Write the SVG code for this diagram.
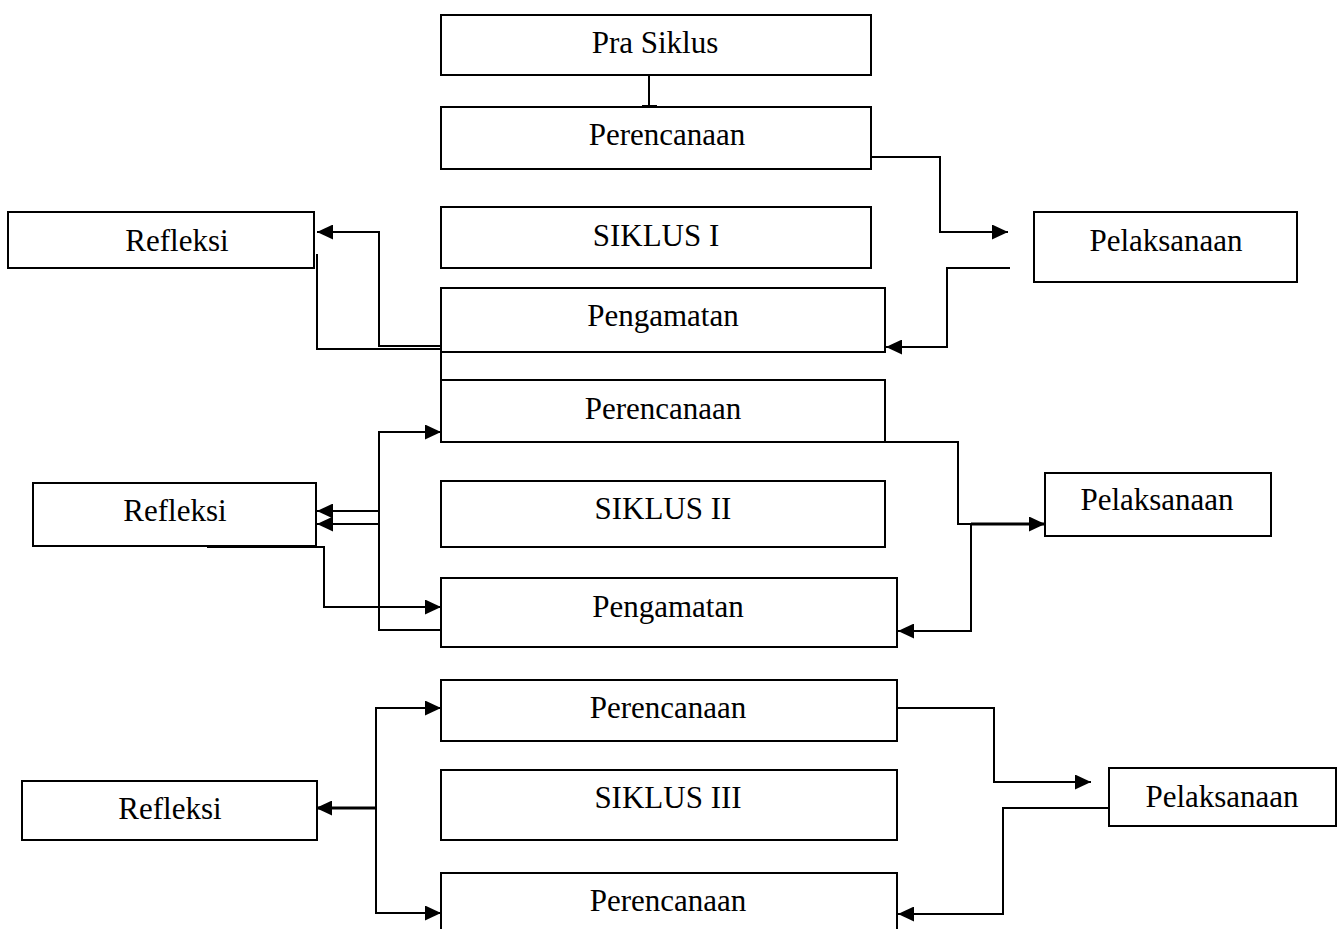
<svg xmlns="http://www.w3.org/2000/svg" width="1340" height="929" viewBox="0 0 1340 929">
<style>
.box{fill:#fff;stroke:#000;stroke-width:2}
.t{font-family:"Liberation Serif","Times New Roman",serif;font-size:31px;fill:#000;text-anchor:middle}
.c{fill:none;stroke:#000;stroke-width:2}
.b{fill:none;stroke:#000;stroke-width:3}
</style>
<defs>
<marker id="ah" viewBox="0 0 16 15" refX="16" refY="7.5" markerWidth="16" markerHeight="15" markerUnits="userSpaceOnUse" orient="auto">
<path d="M0,0 L16,7.5 L0,15 Z" fill="#000"/>
</marker>
</defs>
<rect width="1340" height="929" fill="#fff"/>
<g id="connectors">
<path class="c" d="M649,75 V106"/>
<path class="c" d="M642,106 H657"/>
<path class="c" d="M871,157 H940 V232 H1008" marker-end="url(#ah)"/>
<path class="c" d="M1010,268 H947 V347 H886" marker-end="url(#ah)"/>
<path class="c" d="M441,346 H379 V232 H317" marker-end="url(#ah)"/>
<path class="c" d="M317,254 V349 H441"/>
<path class="c" d="M441,352 V380"/>
<path class="c" d="M885,442 H958 V524 H971"/>
<path class="b" d="M971,524 H1045" marker-end="url(#ah)"/>
<path class="c" d="M971,524 V631 H898" marker-end="url(#ah)"/>
<path class="c" d="M441,630 H379 V432 H441" marker-end="url(#ah)"/>
<path class="c" d="M379,511 H317" marker-end="url(#ah)"/>
<path class="c" d="M379,524 H317" marker-end="url(#ah)"/>
<path class="c" d="M207,547 H324 V607 H441" marker-end="url(#ah)"/>
<path class="c" d="M376,808 V708 H441" marker-end="url(#ah)"/>
<path class="c" d="M376,808 V913 H441" marker-end="url(#ah)"/>
<path class="b" d="M376,808 H316" marker-end="url(#ah)"/>
<path class="c" d="M897,708 H994 V782 H1091" marker-end="url(#ah)"/>
<path class="c" d="M1109,808 H1003 V914 H898" marker-end="url(#ah)"/>
</g>
<g id="pra-siklus"><rect class="box" x="441" y="15" width="430" height="60"/><text class="t" x="655" y="53">Pra Siklus</text></g>
<g id="perencanaan-1"><rect class="box" x="441" y="107" width="430" height="62"/><text class="t" x="667" y="145">Perencanaan</text></g>
<g id="siklus-1"><rect class="box" x="441" y="207" width="430" height="61"/><text class="t" x="656" y="246">SIKLUS I</text></g>
<g id="pengamatan-1"><rect class="box" x="441" y="288" width="444" height="64"/><text class="t" x="663" y="326">Pengamatan</text></g>
<g id="refleksi-1"><rect class="box" x="8" y="212" width="306" height="56"/><text class="t" x="177" y="251">Refleksi</text></g>
<g id="pelaksanaan-1"><rect class="box" x="1034" y="212" width="263" height="70"/><text class="t" x="1166" y="251">Pelaksanaan</text></g>
<g id="perencanaan-2"><rect class="box" x="441" y="380" width="444" height="62"/><text class="t" x="663" y="419">Perencanaan</text></g>
<g id="siklus-2"><rect class="box" x="441" y="481" width="444" height="66"/><text class="t" x="663" y="519">SIKLUS II</text></g>
<g id="pengamatan-2"><rect class="box" x="441" y="578" width="456" height="69"/><text class="t" x="668" y="617">Pengamatan</text></g>
<g id="refleksi-2"><rect class="box" x="33" y="483" width="283" height="63"/><text class="t" x="175" y="521">Refleksi</text></g>
<g id="pelaksanaan-2"><rect class="box" x="1045" y="473" width="226" height="63"/><text class="t" x="1157" y="510">Pelaksanaan</text></g>
<g id="perencanaan-3"><rect class="box" x="441" y="680" width="456" height="61"/><text class="t" x="668" y="718">Perencanaan</text></g>
<g id="siklus-3"><rect class="box" x="441" y="770" width="456" height="70"/><text class="t" x="668" y="808">SIKLUS III</text></g>
<g id="perencanaan-4"><path class="box" d="M441,935 V873 H897 V935"/><text class="t" x="668" y="911">Perencanaan</text></g>
<g id="refleksi-3"><rect class="box" x="22" y="781" width="295" height="59"/><text class="t" x="170" y="819">Refleksi</text></g>
<g id="pelaksanaan-3"><rect class="box" x="1109" y="768" width="227" height="58"/><text class="t" x="1222" y="807">Pelaksanaan</text></g>
</svg>
